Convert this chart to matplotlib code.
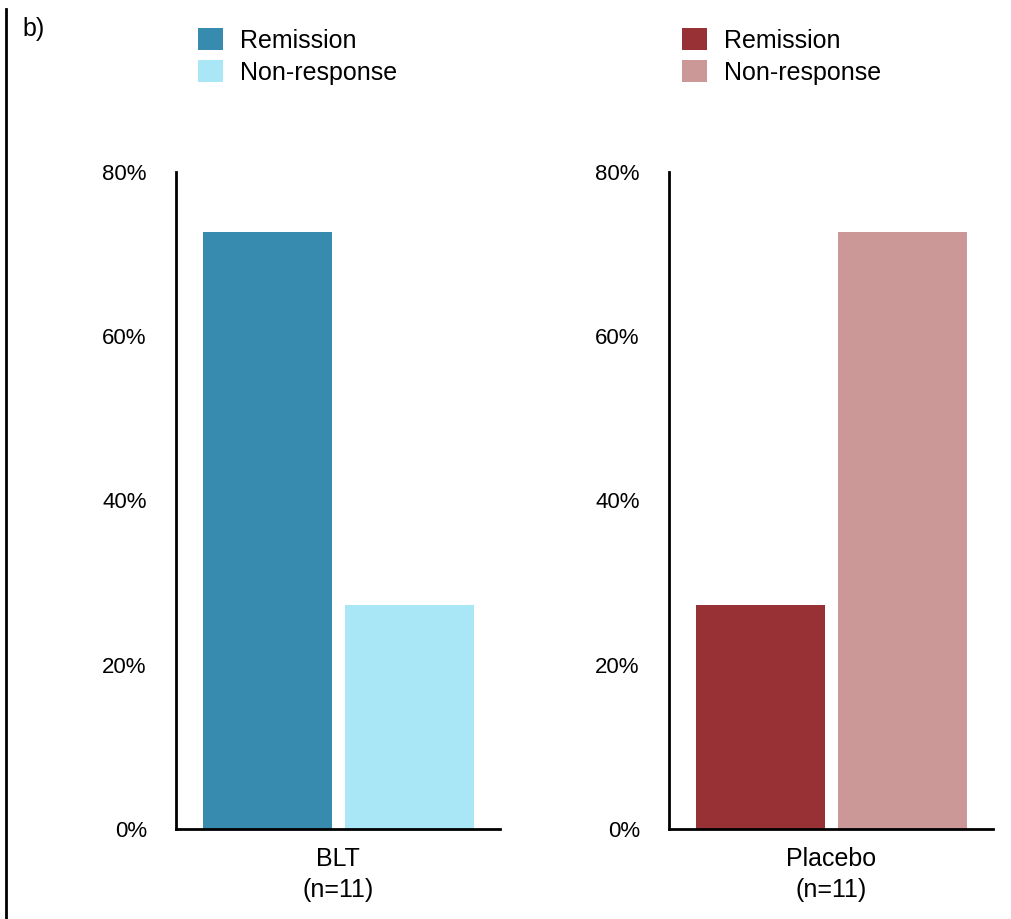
import matplotlib
matplotlib.use("Agg")
import matplotlib.pyplot as plt
from matplotlib.lines import Line2D

plt.rcParams['font.family'] = ['Liberation Sans', 'DejaVu Sans']

# Proportion of patients in each outcome (n=11 per arm)
outcomes = ["Remission", "Non-response"]
groups = ["BLT\n(n=11)", "Placebo\n(n=11)"]
blt_pct = [8 / 11 * 100, 3 / 11 * 100]
placebo_pct = [3 / 11 * 100, 8 / 11 * 100]
yticks = [0, 20, 40, 60, 80]
ytick_labels = ["0%", "20%", "40%", "60%", "80%"]

blt_colors = ["#368BAE", "#A9E7F7"]
placebo_colors = ["#973135", "#CB9897"]

fig = plt.figure(figsize=(10.12, 9.19), dpi=100)

ax_w = 0.320
ax_h = 0.715
ax_b = 0.0979
axes = [fig.add_axes([0.1739, ax_b, ax_w, ax_h]),
        fig.add_axes([0.6611, ax_b, ax_w, ax_h])]

panels = [(axes[0], blt_pct, blt_colors, groups[0], 0.1957),
          (axes[1], placebo_pct, placebo_colors, groups[1], 0.6735)]

for ax, vals, cols, grp, leg_x in panels:
    bars = ax.bar([0, 1], vals, width=0.91, color=cols)
    ax.set_ylim(0, 80)
    ax.set_xlim(-0.645, 1.64)
    ax.set_yticks(yticks)
    ax.set_yticklabels(ytick_labels, fontsize=16)
    ax.set_xticks([0.5])
    ax.set_xticklabels([grp], linespacing=1.35, fontsize=18)
    ax.tick_params(axis="both", length=0)
    ax.tick_params(axis="y", pad=21)
    ax.tick_params(axis="x", pad=13)
    for s in ["top", "right"]:
        ax.spines[s].set_visible(False)
    for s in ["left", "bottom"]:
        ax.spines[s].set_linewidth(2)
    fig.legend(bars, outcomes, loc="upper left",
               bbox_to_anchor=(leg_x, 0.9695), frameon=False,
               fontsize=18, handlelength=1.0, handleheight=1.0,
               handletextpad=0.68, labelspacing=0.28, borderaxespad=0,
               borderpad=0)

# panel label and left separator
fig.text(0.022, 0.982, "b)", fontsize=18, ha="left", va="top")
fig.add_artist(Line2D([0.0055, 0.0055], [0.0, 0.99], color="black",
                      linewidth=2, transform=fig.transFigure))

fig.savefig("out.png", dpi=100)
